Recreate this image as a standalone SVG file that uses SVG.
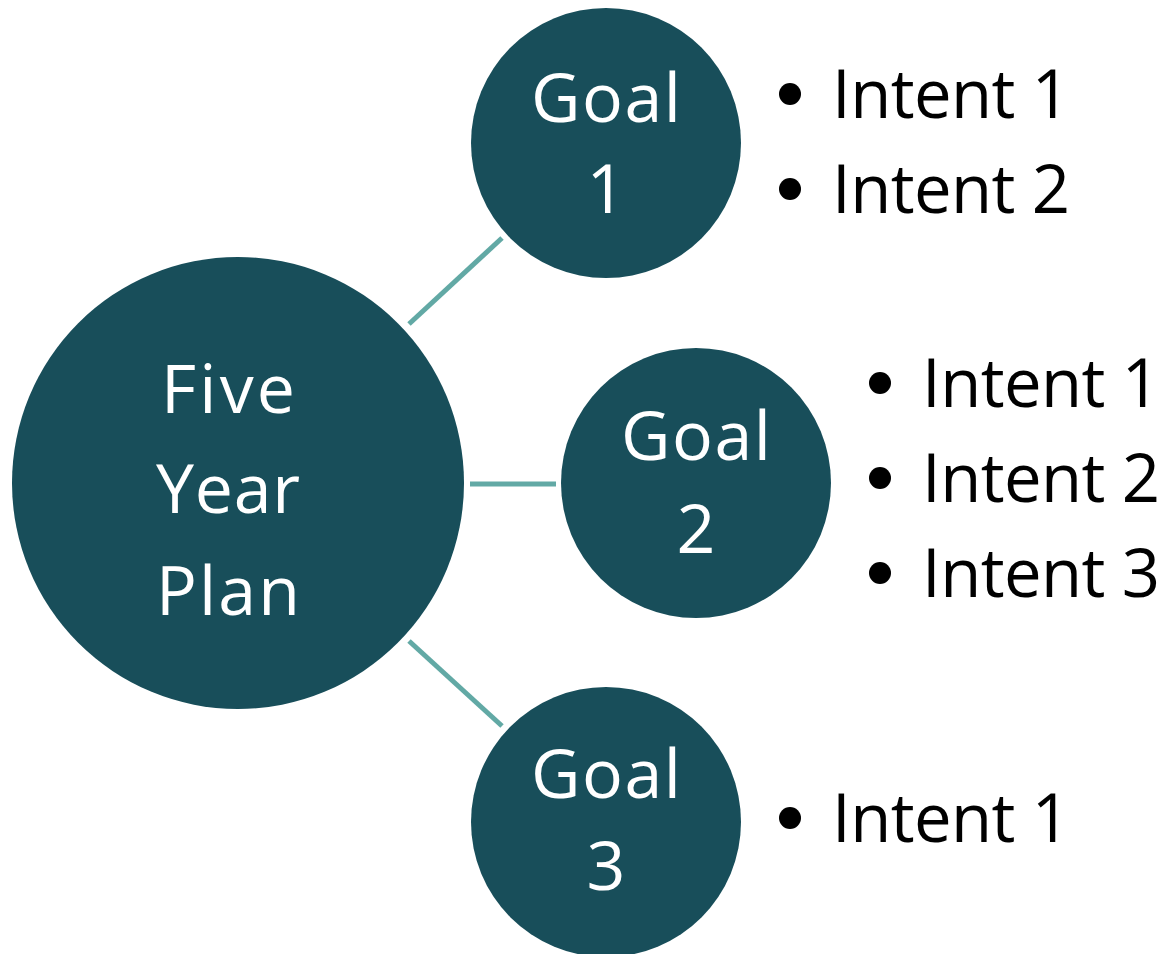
<svg xmlns="http://www.w3.org/2000/svg" width="1161" height="954" viewBox="0 0 1161 954">
<style>
.node{fill:#184E5A}
.nt{fill:#FFFFFF;font-family:"Open Sans","Liberation Sans",sans-serif;font-size:68px;text-anchor:middle}
.it{fill:#000000;font-family:"Open Sans","Liberation Sans",sans-serif;font-size:67px}
.bul{fill:#000000}
.conn{stroke:#62A9A5;stroke-width:5;fill:none}
</style>
<rect width="1161" height="954" fill="#FFFFFF"/>
<g id="connectors">
<line class="conn" x1="409" y1="324" x2="502" y2="238"/>
<line class="conn" x1="470" y1="484" x2="556" y2="484"/>
<line class="conn" x1="409" y1="641" x2="502" y2="726"/>
</g>
<g id="plan">
<circle class="node" cx="238" cy="483" r="226"/>
<text class="nt" x="228" y="413" textLength="134">Five</text>
<text class="nt" x="228" y="513" textLength="144">Year</text>
<text class="nt" x="228" y="615" textLength="144">Plan</text>
</g>
<g id="goal1">
<circle class="node" cx="606" cy="143" r="135"/>
<text class="nt" x="606" y="122" textLength="150">Goal</text>
<text class="nt" x="606" y="213">1</text>
</g>
<g id="goal2">
<circle class="node" cx="696" cy="483" r="135"/>
<text class="nt" x="696" y="460" textLength="150">Goal</text>
<text class="nt" x="696" y="553">2</text>
</g>
<g id="goal3">
<circle class="node" cx="606" cy="822" r="135"/>
<text class="nt" x="606" y="798" textLength="150">Goal</text>
<text class="nt" x="606" y="890">3</text>
</g>
<g id="intents1">
<circle class="bul" cx="790" cy="94" r="11"/>
<text class="it" x="832" y="118" textLength="238">Intent 1</text>
<circle class="bul" cx="790" cy="189" r="11"/>
<text class="it" x="832" y="213" textLength="238">Intent 2</text>
</g>
<g id="intents2">
<circle class="bul" cx="880" cy="383" r="11"/>
<text class="it" x="922" y="407" textLength="238">Intent 1</text>
<circle class="bul" cx="880" cy="478" r="11"/>
<text class="it" x="922" y="502" textLength="238">Intent 2</text>
<circle class="bul" cx="880" cy="573" r="11"/>
<text class="it" x="922" y="597" textLength="238">Intent 3</text>
</g>
<g id="intents3">
<circle class="bul" cx="790" cy="818" r="11"/>
<text class="it" x="832" y="842" textLength="238">Intent 1</text>
</g>
</svg>
